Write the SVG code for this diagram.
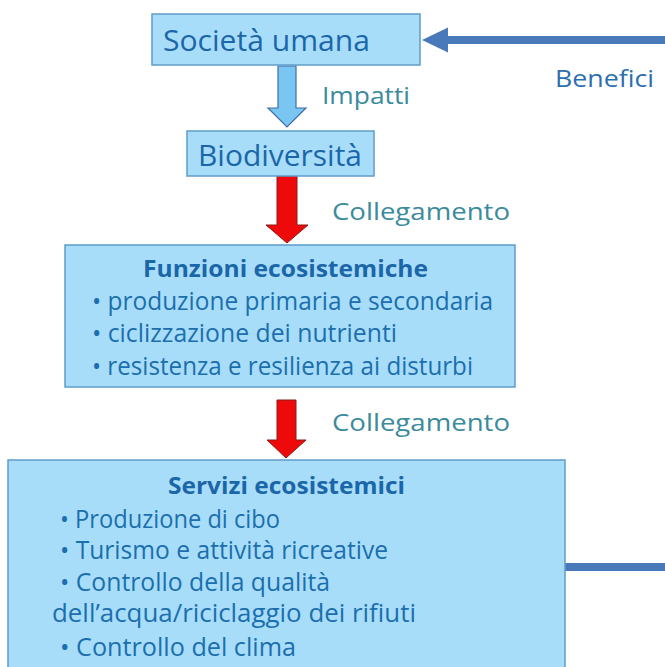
<svg xmlns="http://www.w3.org/2000/svg" width="665" height="667" viewBox="0 0 665 667">
<style>
.box{fill:#a8ddf9;stroke:#5f9cc9;stroke-width:1.5}
.big{font-family:"Open Sans","Liberation Sans",sans-serif;font-size:30px;fill:#1b66a9}
.lbl{font-family:"Open Sans","Liberation Sans",sans-serif;font-size:24px;fill:#3b8b9c}
.ben{font-family:"Open Sans","Liberation Sans",sans-serif;font-size:24px;fill:#2c6fb0}
.ttl{font-family:"Open Sans","Liberation Sans",sans-serif;font-size:23px;font-weight:bold;fill:#1b66a9}
.itm{font-family:"Open Sans","Liberation Sans",sans-serif;font-size:25px;fill:#1b6fae}
.red{fill:#ee0a0a;stroke:#8e1b1b;stroke-width:1}
.blu{fill:#79c6f2;stroke:#3f6fa3;stroke-width:1.2}
</style>
<rect width="665" height="667" fill="#ffffff"/>
<g id="connectors">
<path d="M565,567 H690 V40 H446" fill="none" stroke="#4a79b9" stroke-width="8"/>
<polygon points="422,40 448,27.5 448,52.5" fill="#4a79b9"/>
<polygon class="blu" points="278,66 296,66 296,108 306,108 287,127 268,108 278,108"/>
<polygon class="red" points="277,176 297,176 297,225 308,225 287,243 266,225 277,225"/>
<polygon class="red" points="277,400 296,400 296,440 306,440 286,458 267,440 277,440"/>
<text class="lbl" x="322" y="104" textLength="88" lengthAdjust="spacingAndGlyphs">Impatti</text>
<text class="lbl" x="332" y="220" textLength="178" lengthAdjust="spacingAndGlyphs">Collegamento</text>
<text class="lbl" x="332" y="431" textLength="178" lengthAdjust="spacingAndGlyphs">Collegamento</text>
<text class="ben" x="555" y="87" textLength="99" lengthAdjust="spacingAndGlyphs">Benefici</text>
</g>
<g id="societa">
<rect class="box" x="152" y="14" width="268" height="51"/>
<text class="big" x="163" y="51" textLength="207" lengthAdjust="spacingAndGlyphs">Società umana</text>
</g>
<g id="biodiversita">
<rect class="box" x="187" y="131" width="187" height="45"/>
<text class="big" x="198" y="166" textLength="164" lengthAdjust="spacingAndGlyphs">Biodiversità</text>
</g>
<g id="funzioni">
<rect class="box" x="65" y="245" width="450" height="142"/>
<text class="ttl" x="143" y="277" textLength="285" lengthAdjust="spacingAndGlyphs">Funzioni ecosistemiche</text>
<text class="itm" x="92" y="310" textLength="401" lengthAdjust="spacingAndGlyphs">• produzione primaria e secondaria</text>
<text class="itm" x="92" y="342" textLength="305" lengthAdjust="spacingAndGlyphs">• ciclizzazione dei nutrienti</text>
<text class="itm" x="92" y="375" textLength="381" lengthAdjust="spacingAndGlyphs">• resistenza e resilienza ai disturbi</text>
</g>
<g id="servizi">
<rect class="box" x="8" y="460" width="557" height="210"/>
<text class="ttl" x="168" y="494" textLength="237" lengthAdjust="spacingAndGlyphs">Servizi ecosistemici</text>
<text class="itm" x="60" y="528" textLength="220" lengthAdjust="spacingAndGlyphs">• Produzione di cibo</text>
<text class="itm" x="60" y="559" textLength="328" lengthAdjust="spacingAndGlyphs">• Turismo e attività ricreative</text>
<text class="itm" x="60" y="591" textLength="270" lengthAdjust="spacingAndGlyphs">• Controllo della qualità</text>
<text class="itm" x="52" y="622" textLength="364" lengthAdjust="spacingAndGlyphs">dell’acqua/riciclaggio dei rifiuti</text>
<text class="itm" x="60" y="656" textLength="236" lengthAdjust="spacingAndGlyphs">• Controllo del clima</text>
</g>
</svg>
